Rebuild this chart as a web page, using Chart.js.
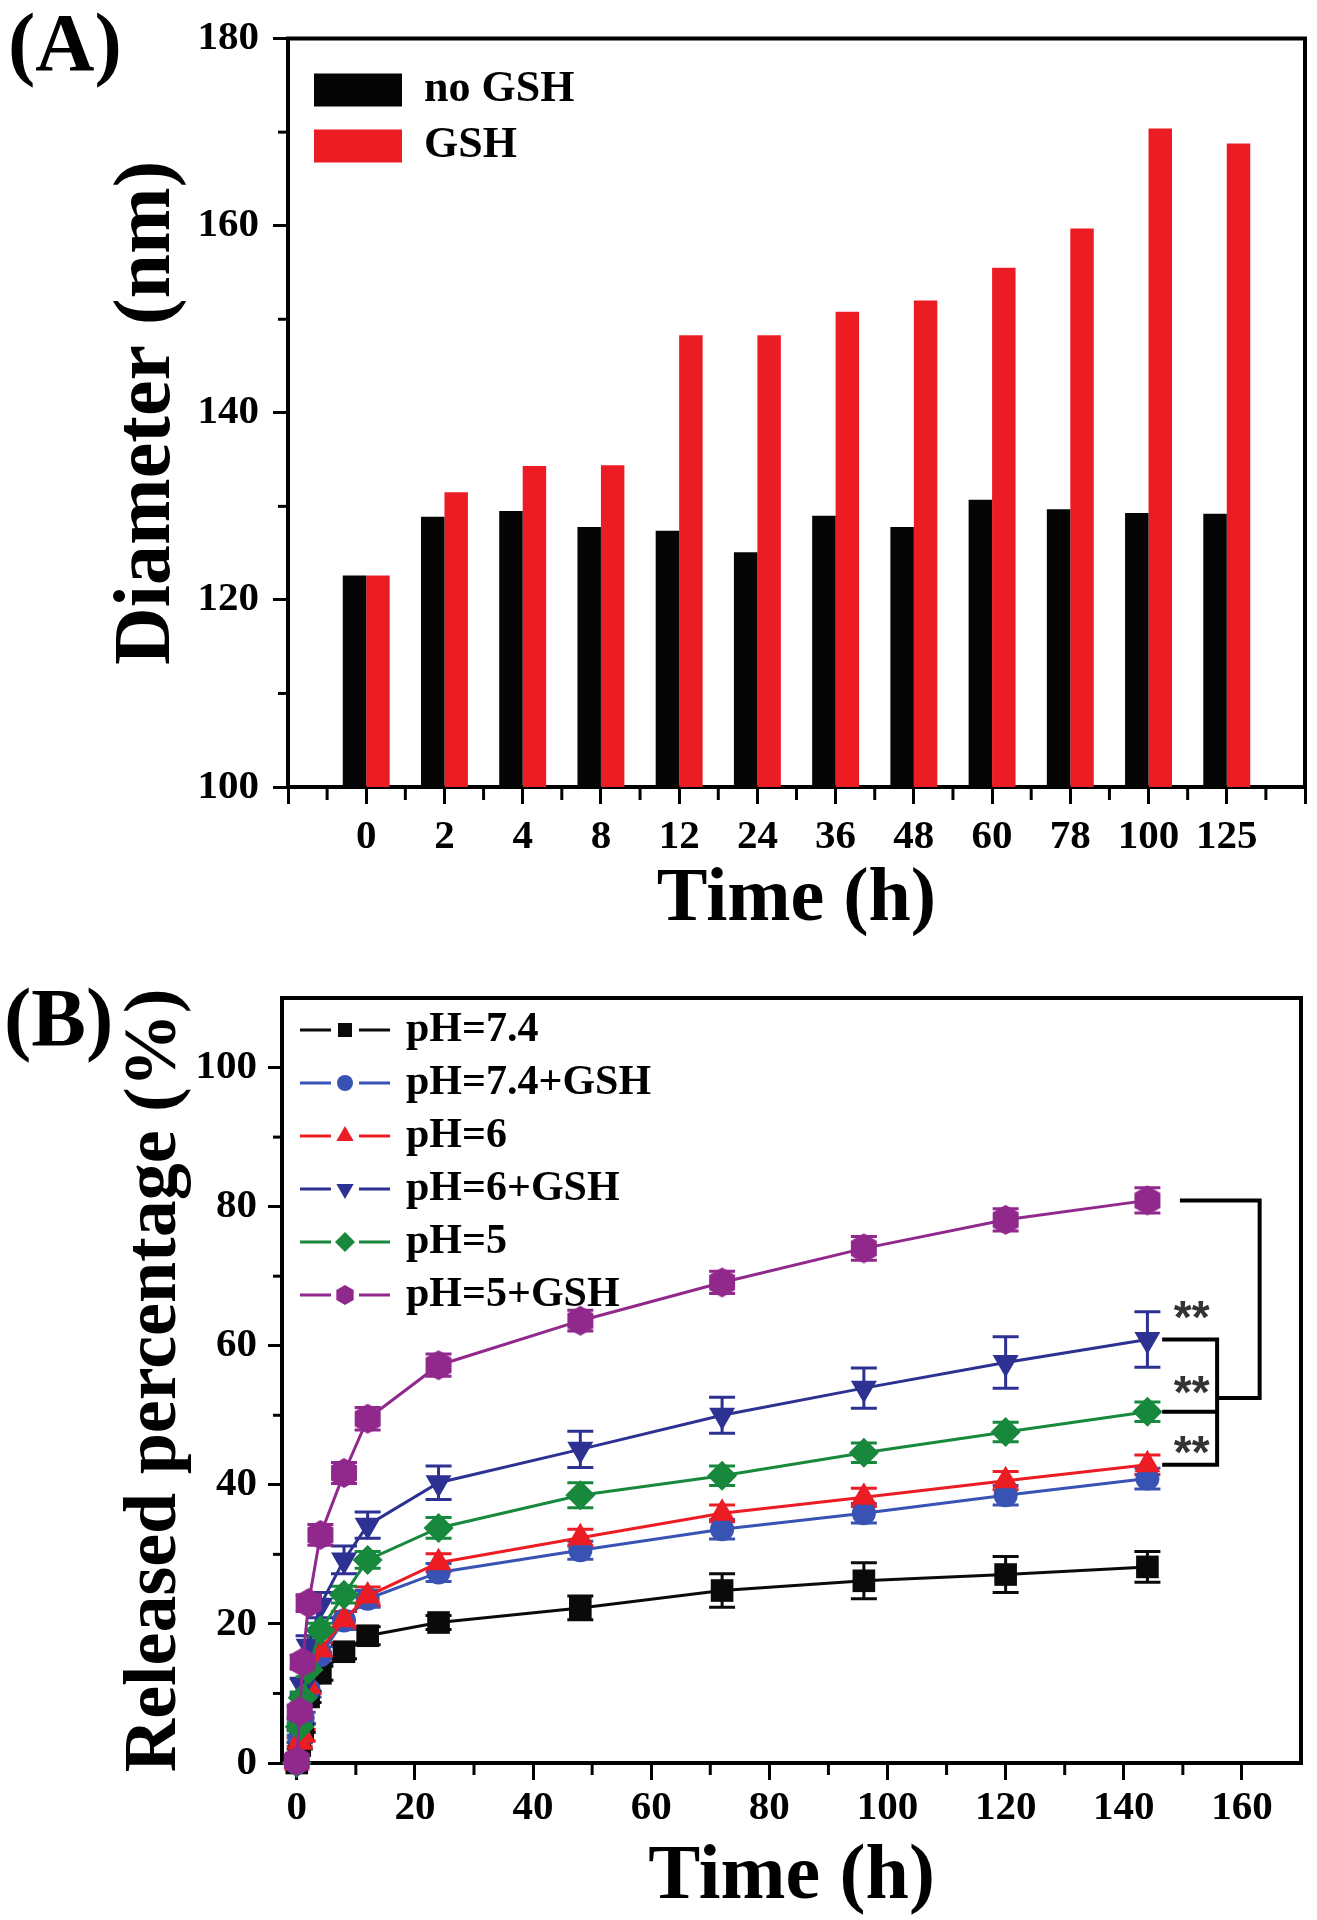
<!DOCTYPE html>
<html>
<head>
<meta charset="utf-8">
<title>Diameter and release</title>
<script src="https://cdn.jsdelivr.net/npm/chart.js@4.4.1/dist/chart.umd.min.js"></script>
<style>
  body { margin: 0; background: #fff; }
  canvas { display: block; }
</style>
</head>
<body>
<canvas id="graficoDiametro" width="1317" height="960"></canvas>
<canvas id="graficoLiberacao" width="1317" height="960"></canvas>
<script>
Chart.defaults.font.family = "'Liberation Serif', 'Times New Roman', serif";
Chart.defaults.color = '#000';

// Dados do painel A
const tempos = ['0', '2', '4', '8', '12', '24', '36', '48', '60', '78', '100', '125'];
const semGSH = [122.6, 128.9, 129.5, 127.8, 127.4, 125.1, 129.0, 127.8, 130.7, 129.7, 129.3, 129.2];
const comGSH = [122.6, 131.5, 134.3, 134.4, 148.3, 148.3, 150.8, 152.0, 155.5, 159.7, 170.4, 168.8];
const ticksDiametro = [100, 120, 140, 160, 180];
const minorDiametro = [110, 130, 150, 170];

// Dados do painel B
const horas = [0, 0.5, 1, 2, 4, 8, 12, 24, 48, 72, 96, 120, 144];
const ph74 = [0, 2.5, 5.0, 9.5, 12.9, 16.0, 18.3, 20.2, 22.3, 24.8, 26.2, 27.1, 28.2];
const erro74 = [0, 0.5, 0.6, 0.8, 1.0, 1.0, 1.3, 1.0, 1.7, 2.4, 2.6, 2.6, 2.2];
const ph74GSH = [0, 3.5, 6.5, 10.5, 15.5, 20.5, 23.6, 27.4, 30.6, 33.6, 35.9, 38.5, 40.9];
const erro74GSH = [0, 0.5, 0.8, 1.0, 1.2, 1.3, 1.2, 1.3, 1.3, 1.4, 1.4, 1.4, 1.5];
const ph6 = [0, 3.0, 4.0, 11.0, 16.3, 20.6, 24.0, 28.8, 32.4, 35.9, 38.2, 40.6, 42.9];
const erro6 = [0, 0.6, 0.8, 1.0, 1.0, 1.2, 1.3, 1.3, 1.2, 1.2, 1.3, 1.3, 1.4];
const ph6GSH = [0, 5.5, 11.0, 16.8, 22.7, 29.2, 34.2, 40.3, 45.1, 50.0, 53.9, 57.6, 60.9];
const erro6GSH = [0, 0.8, 1.2, 1.5, 1.8, 2.0, 1.9, 2.4, 2.6, 2.6, 2.9, 3.7, 4.0];
const ph5 = [0, 5.2, 9.4, 13.4, 19.1, 24.2, 29.2, 33.8, 38.5, 41.3, 44.6, 47.6, 50.5];
const erro5 = [0, 0.6, 0.8, 1.0, 1.0, 1.2, 1.2, 1.5, 1.8, 1.4, 1.4, 1.4, 1.4];
const ph5GSH = [0.3, 7.4, 14.5, 23.0, 32.8, 41.7, 49.5, 57.2, 63.6, 69.1, 74.0, 78.1, 80.9];
const erro5GSH = [0, 0.8, 1.0, 1.2, 1.5, 1.5, 1.6, 1.6, 1.5, 1.6, 1.7, 1.6, 1.8];
const ticksTempoB = [0, 20, 40, 60, 80, 100, 120, 140, 160];
const minorTempoB = [10, 30, 50, 70, 90, 110, 130, 150];
const ticksLiberacao = [0, 20, 40, 60, 80, 100];
const minorLiberacao = [10, 30, 50, 70, 90];

// Colchetes de significância (valores em unidades dos eixos)
const ultimo = arr => arr[arr.length - 1];
const colchetes = [
    [[149.5, ultimo(ph5GSH)], [163, ultimo(ph5GSH)], [163, 52.5], [155.8, 52.5]],
    [[146.5, ultimo(ph6GSH)], [155.8, ultimo(ph6GSH)], [155.8, ultimo(ph6)], [146.5, ultimo(ph6)]],
    [[146.5, ultimo(ph5)], [155.8, ultimo(ph5)]]
];
const estrelasX = 151.5;
const estrelasY = [65.5, 54.8, 46.2];

function desenhaMarcador(g, tipo, x, y, r) {
    g.beginPath();
    if (tipo === 'rect') {
        const s = r * 0.7;
        g.rect(x - s, y - s, 2 * s, 2 * s);
    } else if (tipo === 'circle') {
        g.arc(x, y, r * 0.8, 0, Math.PI * 2);
    } else if (tipo === 'triangle' || tipo === 'triangleDown') {
        const d = tipo === 'triangle' ? 1 : -1;
        g.moveTo(x, y - d * r);
        g.lineTo(x + r * 0.866, y + d * r * 0.5);
        g.lineTo(x - r * 0.866, y + d * r * 0.5);
    } else if (tipo === 'diamond') {
        g.moveTo(x, y - r);
        g.lineTo(x + r, y);
        g.lineTo(x, y + r);
        g.lineTo(x - r, y);
    } else {
        for (let k = 0; k < 6; k++) {
            const a = -Math.PI / 2 + k * Math.PI / 3;
            const px = x + r * Math.cos(a), py = y + r * Math.sin(a);
            k ? g.lineTo(px, py) : g.moveTo(px, py);
        }
    }
    g.closePath();
    g.fill();
}

function fazHexagono(r, cor) {
    const c = document.createElement('canvas');
    c.width = Math.ceil(2 * r + 2);
    c.height = c.width;
    const g = c.getContext('2d');
    g.fillStyle = cor;
    desenhaMarcador(g, 'hexagon', c.width / 2, c.height / 2, r);
    return c;
}

function fazIcone(tipo, cor) {
    const c = document.createElement('canvas');
    c.width = 90;
    c.height = 30;
    const g = c.getContext('2d');
    g.strokeStyle = cor;
    g.fillStyle = cor;
    g.lineWidth = 3;
    g.beginPath();
    g.moveTo(0, 15); g.lineTo(31, 15);
    g.moveTo(59, 15); g.lineTo(90, 15);
    g.stroke();
    desenhaMarcador(g, tipo, 45, 15, 10);
    return c;
}

// molduras, ticks menores e letra do painel
const moldura = {
    id: 'moldura',
    afterDraw(chart, args, opts) {
        const { ctx, chartArea: ca, scales } = chart;
        ctx.save();
        ctx.strokeStyle = '#000';
        ctx.lineWidth = 3;
        opts.minorX.forEach(v => {
            const px = scales.x.getPixelForValue(v);
            ctx.beginPath();
            ctx.moveTo(px, ca.bottom);
            ctx.lineTo(px, ca.bottom + opts.lenX);
            ctx.stroke();
        });
        opts.minorY.forEach(v => {
            const py = scales.y.getPixelForValue(v);
            ctx.beginPath();
            ctx.moveTo(ca.left, py);
            ctx.lineTo(ca.left - opts.lenY, py);
            ctx.stroke();
        });
        ctx.lineWidth = 4;
        ctx.beginPath();
        ctx.moveTo(ca.left - 2, ca.top);
        ctx.lineTo(ca.right, ca.top);
        ctx.lineTo(ca.right, ca.bottom + 2);
        ctx.stroke();
        ctx.fillStyle = '#000';
        ctx.font = "bold 82px 'Liberation Serif', serif";
        ctx.textBaseline = 'alphabetic';
        ctx.textAlign = 'left';
        ctx.fillText(opts.letra, opts.letraX, opts.letraY);
        ctx.restore();
    }
};

const posicionaLegenda = {
    id: 'posicionaLegenda',
    afterLayout(chart, args, opts) {
        const lg = chart.legend, ca = chart.chartArea;
        lg.left = ca.left + opts.x;
        lg.right = lg.left + lg.width;
        lg.top = ca.top + opts.y;
        lg.bottom = lg.top + lg.height;
    }
};

const barrasErro = {
    id: 'barrasErro',
    beforeDatasetsDraw(chart) {
        const { ctx, scales: { y } } = chart;
        chart.data.datasets.forEach((ds, i) => {
            if (!ds.erros) return;
            const meta = chart.getDatasetMeta(i);
            ctx.save();
            ctx.strokeStyle = ds.borderColor;
            ctx.lineWidth = 3;
            meta.data.forEach((pt, k) => {
                const e = ds.erros[k];
                if (!e) return;
                const v = ds.data[k].y;
                const yt = y.getPixelForValue(v + e), yb = y.getPixelForValue(v - e);
                ctx.beginPath();
                ctx.moveTo(pt.x, yt); ctx.lineTo(pt.x, yb);
                ctx.moveTo(pt.x - 13, yt); ctx.lineTo(pt.x + 13, yt);
                ctx.moveTo(pt.x - 13, yb); ctx.lineTo(pt.x + 13, yb);
                ctx.stroke();
            });
            ctx.restore();
        });
    }
};

const significancia = {
    id: 'significancia',
    afterDatasetsDraw(chart) {
        const { ctx, scales: { x, y } } = chart;
        ctx.save();
        ctx.strokeStyle = '#000';
        ctx.lineWidth = 4;
        colchetes.forEach(caminho => {
            ctx.beginPath();
            caminho.forEach(([a, b], k) => {
                const px = x.getPixelForValue(a), py = y.getPixelForValue(b);
                k ? ctx.lineTo(px, py) : ctx.moveTo(px, py);
            });
            ctx.stroke();
        });
        ctx.fillStyle = '#333';
        ctx.font = "bold 46px 'Liberation Sans', sans-serif";
        ctx.textAlign = 'center';
        ctx.textBaseline = 'alphabetic';
        estrelasY.forEach(v => {
            ctx.fillText('**', x.getPixelForValue(estrelasX), y.getPixelForValue(v) + 26);
        });
        ctx.restore();
    }
};

const fonteTick = { size: 41, weight: 'bold' };

//Gráfico A

const graficoDiametro = document.getElementById('graficoDiametro');

new Chart(graficoDiametro, {
    type: 'bar',
    data: {
        datasets: [{
            label: 'no GSH',
            data: semGSH.map((v, i) => ({ x: i, y: v })),
            backgroundColor: '#050505',
            borderWidth: 0
        }, {
            label: 'GSH',
            data: comGSH.map((v, i) => ({ x: i, y: v })),
            backgroundColor: '#ec1c24',
            borderWidth: 0
        }]
    },
    options: {
        responsive: false,
        animation: false,
        events: [],
        categoryPercentage: 0.6,
        barPercentage: 1.0,
        layout: { padding: { top: 32, right: 12, bottom: 0, left: 0 } },
        scales: {
            x: {
                type: 'linear',
                min: -1,
                max: tempos.length,
                offset: false,
                afterBuildTicks: s => {
                    s.ticks = [];
                    for (let i = -1; i <= tempos.length; i++) s.ticks.push({ value: i });
                },
                afterFit: s => { s.height = 173; },
                grid: { offset: false, drawOnChartArea: false, tickLength: 17, tickWidth: 3, tickColor: '#000' },
                border: { display: true, width: 4, color: '#000' },
                ticks: {
                    autoSkip: false, maxRotation: 0, minRotation: 0, padding: 9,
                    font: fonteTick, color: '#000',
                    callback: v => tempos[v] !== undefined ? tempos[v] : ''
                },
                title: {
                    display: true, text: 'Time (h)', color: '#000',
                    font: { size: 76, weight: 'bold', lineHeight: 1 },
                    padding: { top: 0, bottom: 22 }
                }
            },
            y: {
                min: 100,
                max: 180,
                afterBuildTicks: s => { s.ticks = ticksDiametro.map(v => ({ value: v })); },
                afterFit: s => { s.width = 288; },
                grid: { drawOnChartArea: false, tickLength: 15, tickWidth: 3, tickColor: '#000' },
                border: { display: true, width: 4, color: '#000' },
                ticks: { padding: 14, font: fonteTick, color: '#000' },
                title: {
                    display: true, text: 'Diameter (nm)', color: '#000',
                    font: { size: 80, weight: 'bold', lineHeight: 1 },
                    padding: { top: 108, bottom: 0 }
                }
            }
        },
        plugins: {
            tooltip: { enabled: false },
            legend: {
                position: 'chartArea',
                align: 'start',
                labels: {
                    boxWidth: 88, boxHeight: 33, padding: 12, color: '#000',
                    font: { size: 44, weight: 'bold' }
                }
            },
            posicionaLegenda: { x: 14, y: 17.5 },
            moldura: {
                minorX: tempos.map((t, i) => i - 0.5).concat([tempos.length - 0.5]),
                minorY: minorDiametro, lenX: 13, lenY: 10,
                letra: '(A)', letraX: 8, letraY: 70
            }
        }
    },
    plugins: [posicionaLegenda, moldura]
});

//Gráfico B

const pontos = valores => valores.map((v, i) => ({ x: horas[i], y: v }));

function serie(label, valores, erros, cor, estilo, raio, extra) {
    return Object.assign({
        label: label,
        data: pontos(valores),
        erros: erros,
        borderColor: cor,
        backgroundColor: cor,
        borderWidth: 3,
        pointStyle: estilo,
        pointRadius: raio,
        pointBorderWidth: 0,
        tension: 0,
        fill: false,
        clip: false
    }, extra || {});
}

const series = [
    serie('pH=7.4', ph74, erro74, '#0a0a0a', 'rect', 16, { order: 5 }),
    serie('pH=7.4+GSH', ph74GSH, erro74GSH, '#3853b4', 'circle', 12, { order: 4 }),
    serie('pH=6', ph6, erro6, '#ec1c24', 'triangle', 15, { order: 3 }),
    serie('pH=6+GSH', ph6GSH, erro6GSH, '#2c3192', 'triangle', 15, { order: 2, pointRotation: 180 }),
    serie('pH=5', ph5, erro5, '#17883c', 'rectRot', 15, { order: 1 }),
    serie('pH=5+GSH', ph5GSH, erro5GSH, '#91298d', fazHexagono(15, '#91298d'), 15, { order: 0 })
];
const tiposLegenda = ['rect', 'circle', 'triangle', 'triangleDown', 'diamond', 'hexagon'];

const graficoLiberacao = document.getElementById('graficoLiberacao');

new Chart(graficoLiberacao, {
    type: 'line',
    data: { datasets: series },
    options: {
        responsive: false,
        animation: false,
        events: [],
        layout: { padding: { top: 38, right: 5, bottom: 0, left: 0 } },
        scales: {
            x: {
                type: 'linear',
                min: -2.5,
                max: 170,
                afterBuildTicks: s => { s.ticks = ticksTempoB.map(v => ({ value: v })); },
                afterFit: s => { s.height = 157; },
                grid: { drawOnChartArea: false, tickLength: 17, tickWidth: 3, tickColor: '#000' },
                border: { display: true, width: 4, color: '#000' },
                ticks: { autoSkip: false, maxRotation: 0, minRotation: 0, padding: 4, font: fonteTick, color: '#000' },
                title: {
                    display: true, text: 'Time (h)', color: '#000',
                    font: { size: 78, weight: 'bold', lineHeight: 1 },
                    padding: { top: 0, bottom: 3 }
                }
            },
            y: {
                min: 0,
                max: 110,
                afterBuildTicks: s => { s.ticks = ticksLiberacao.map(v => ({ value: v })); },
                afterFit: s => { s.width = 282; },
                grid: { drawOnChartArea: false, tickLength: 14, tickWidth: 3, tickColor: '#000' },
                border: { display: true, width: 4, color: '#000' },
                ticks: { padding: 11, font: fonteTick, color: '#000' },
                title: {
                    display: true, text: 'Released percentage (%)', color: '#000',
                    font: { size: 74, weight: 'bold', lineHeight: 1 },
                    padding: { top: 119, bottom: 0 }
                }
            }
        },
        plugins: {
            tooltip: { enabled: false },
            legend: {
                position: 'chartArea',
                align: 'start',
                labels: {
                    usePointStyle: true,
                    pointStyleWidth: 80,
                    padding: 11,
                    color: '#000',
                    font: { size: 42, weight: 'bold' },
                    generateLabels: chart => chart.data.datasets.map((ds, i) => ({
                        text: ds.label,
                        pointStyle: fazIcone(tiposLegenda[i], ds.borderColor),
                        fillStyle: ds.borderColor,
                        strokeStyle: ds.borderColor,
                        lineWidth: 0,
                        hidden: false,
                        datasetIndex: i,
                        fontColor: '#000'
                    }))
                }
            },
            posicionaLegenda: { x: 12, y: 0 },
            moldura: {
                minorX: minorTempoB, minorY: minorLiberacao, lenX: 12, lenY: 9,
                letra: '(B)', letraX: 4, letraY: 85
            }
        }
    },
    plugins: [posicionaLegenda, barrasErro, significancia, moldura]
});
</script>
</body>
</html>
